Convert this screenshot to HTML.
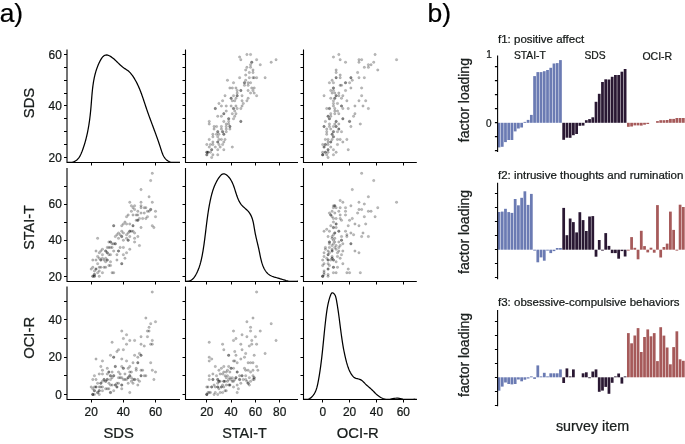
<!DOCTYPE html>
<html><head><meta charset="utf-8"><title>figure</title>
<style>html,body{margin:0;padding:0;background:#fff;width:685px;height:444px;overflow:hidden}
svg{display:block;font-family:"Liberation Sans", sans-serif;will-change:transform}
text{stroke:currentColor;stroke-width:0.22}</style></head>
<body><svg width="685" height="444" viewBox="0 0 685 444"><rect width="685" height="444" fill="#fff"/><text x="-0.3" y="22.4" font-size="26.3" fill="#000">a)</text><text x="427.5" y="22" font-size="26.5" fill="#000">b)</text><path d="M67.20,162.30 L68.46,162.40 L69.90,162.40 L71.23,162.40 L72.47,162.19 L73.61,161.85 L74.67,161.40 L75.64,160.84 L76.53,160.20 L77.35,159.46 L78.10,158.65 L78.80,157.77 L79.44,156.83 L80.03,155.83 L80.58,154.79 L81.09,153.72 L81.56,152.61 L82.02,151.49 L82.44,150.35 L82.86,149.20 L83.26,148.06 L83.65,146.91 L84.02,145.76 L84.38,144.61 L84.73,143.46 L85.07,142.31 L85.40,141.15 L85.71,139.99 L86.02,138.83 L86.31,137.67 L86.59,136.51 L86.86,135.35 L87.13,134.18 L87.38,133.01 L87.62,131.84 L87.85,130.67 L88.08,129.50 L88.29,128.33 L88.50,127.16 L88.70,125.98 L88.89,124.80 L89.07,123.62 L89.25,122.45 L89.42,121.26 L89.58,120.08 L89.74,118.90 L89.88,117.71 L90.03,116.53 L90.17,115.34 L90.30,114.15 L90.42,112.96 L90.55,111.77 L90.66,110.58 L90.78,109.39 L90.88,108.20 L90.99,107.00 L91.09,105.81 L91.19,104.61 L91.28,103.41 L91.38,102.22 L91.47,101.02 L91.56,99.82 L91.66,98.62 L91.75,97.42 L91.85,96.22 L91.95,95.03 L92.05,93.83 L92.16,92.63 L92.28,91.44 L92.40,90.24 L92.53,89.05 L92.66,87.86 L92.81,86.67 L92.96,85.48 L93.13,84.29 L93.31,83.11 L93.50,81.92 L93.70,80.75 L93.92,79.57 L94.15,78.39 L94.39,77.22 L94.65,76.06 L94.93,74.89 L95.23,73.73 L95.55,72.57 L95.88,71.42 L96.24,70.27 L96.62,69.13 L97.02,67.99 L97.44,66.85 L97.89,65.72 L98.36,64.59 L98.85,63.47 L99.37,62.35 L99.92,61.24 L100.50,60.15 L101.11,59.09 L101.76,58.10 L102.45,57.20 L103.18,56.41 L103.97,55.77 L104.80,55.30 L105.70,55.02 L106.65,54.97 L107.66,55.13 L108.71,55.48 L109.79,55.99 L110.88,56.64 L111.97,57.39 L113.03,58.21 L114.07,59.07 L115.05,59.95 L115.99,60.84 L116.88,61.71 L117.75,62.58 L118.60,63.43 L119.44,64.26 L120.28,65.07 L121.14,65.85 L122.02,66.60 L122.93,67.30 L123.88,67.97 L124.86,68.61 L125.85,69.24 L126.83,69.89 L127.78,70.57 L128.69,71.29 L129.55,72.09 L130.35,72.94 L131.11,73.83 L131.83,74.76 L132.52,75.72 L133.19,76.69 L133.83,77.68 L134.45,78.68 L135.06,79.70 L135.64,80.73 L136.21,81.77 L136.75,82.82 L137.29,83.88 L137.80,84.96 L138.30,86.04 L138.79,87.13 L139.26,88.23 L139.72,89.34 L140.17,90.45 L140.61,91.57 L141.04,92.70 L141.46,93.83 L141.87,94.97 L142.27,96.11 L142.67,97.25 L143.07,98.39 L143.45,99.54 L143.84,100.69 L144.22,101.84 L144.60,102.99 L144.98,104.14 L145.36,105.28 L145.74,106.43 L146.12,107.57 L146.51,108.71 L146.90,109.84 L147.29,110.98 L147.68,112.11 L148.08,113.23 L148.48,114.35 L148.88,115.47 L149.28,116.59 L149.69,117.71 L150.10,118.82 L150.51,119.93 L150.92,121.04 L151.33,122.15 L151.74,123.26 L152.16,124.37 L152.57,125.48 L152.99,126.59 L153.40,127.70 L153.81,128.81 L154.23,129.92 L154.64,131.04 L155.05,132.15 L155.46,133.27 L155.87,134.39 L156.28,135.51 L156.68,136.63 L157.09,137.76 L157.49,138.89 L157.89,140.02 L158.28,141.16 L158.68,142.30 L159.07,143.45 L159.45,144.60 L159.84,145.75 L160.21,146.91 L160.59,148.08 L160.96,149.25 L161.33,150.43 L161.71,151.59 L162.12,152.74 L162.55,153.87 L163.02,154.96 L163.53,156.01 L164.10,157.02 L164.74,157.97 L165.45,158.85 L166.24,159.66 L167.12,160.39 L168.10,161.03 L169.17,161.58 L170.32,162.03 L171.51,162.40 L172.75,162.40 L174.01,162.40 L175.27,162.40 L176.52,162.40 L177.74,162.40 L178.92,162.40 L180.00,162.38" fill="none" stroke="#000" stroke-width="1.25"/><path d="M67.00,49.40 V162.50 H180.00" fill="none" stroke="#000" stroke-width="1.1"/><path d="M64.00,157.50H67.00M64.00,144.50H67.00M64.00,131.50H67.00M64.00,118.50H67.00M64.00,105.50H67.00M64.00,93.50H67.00M64.00,80.50H67.00M64.00,67.50H67.00M64.00,54.50H67.00M91.50,162.50V165.50M123.50,162.50V165.50M155.50,162.50V165.50" stroke="#000" stroke-width="1"/><g fill="rgba(0,0,0,0.27)" stroke="rgba(0,0,0,0.2)" stroke-width="0.5"><circle cx="246.90" cy="54.50" r="1.25"/><circle cx="250.54" cy="54.50" r="1.25"/><circle cx="239.61" cy="57.07" r="1.25"/><circle cx="240.82" cy="59.65" r="1.25"/><circle cx="256.62" cy="59.65" r="1.25"/><circle cx="276.06" cy="59.65" r="1.25"/><circle cx="251.76" cy="62.22" r="1.25"/><circle cx="251.76" cy="62.22" r="1.25"/><circle cx="271.20" cy="62.22" r="1.25"/><circle cx="250.54" cy="64.79" r="1.25"/><circle cx="260.26" cy="64.79" r="1.25"/><circle cx="246.90" cy="67.36" r="1.25"/><circle cx="250.54" cy="67.36" r="1.25"/><circle cx="245.68" cy="69.94" r="1.25"/><circle cx="252.97" cy="69.94" r="1.25"/><circle cx="249.33" cy="72.51" r="1.25"/><circle cx="252.97" cy="72.51" r="1.25"/><circle cx="245.68" cy="75.08" r="1.25"/><circle cx="239.61" cy="77.65" r="1.25"/><circle cx="249.33" cy="77.65" r="1.25"/><circle cx="252.97" cy="77.65" r="1.25"/><circle cx="254.19" cy="77.65" r="1.25"/><circle cx="256.62" cy="77.65" r="1.25"/><circle cx="265.12" cy="77.65" r="1.25"/><circle cx="227.46" cy="80.23" r="1.25"/><circle cx="245.68" cy="80.23" r="1.25"/><circle cx="233.53" cy="82.80" r="1.25"/><circle cx="244.47" cy="82.80" r="1.25"/><circle cx="244.47" cy="82.80" r="1.25"/><circle cx="248.11" cy="82.80" r="1.25"/><circle cx="250.54" cy="82.80" r="1.25"/><circle cx="244.47" cy="85.37" r="1.25"/><circle cx="248.11" cy="85.37" r="1.25"/><circle cx="229.89" cy="87.94" r="1.25"/><circle cx="232.31" cy="87.94" r="1.25"/><circle cx="235.96" cy="87.94" r="1.25"/><circle cx="251.76" cy="87.94" r="1.25"/><circle cx="254.19" cy="87.94" r="1.25"/><circle cx="237.18" cy="90.52" r="1.25"/><circle cx="240.82" cy="90.52" r="1.25"/><circle cx="240.82" cy="90.52" r="1.25"/><circle cx="248.11" cy="90.52" r="1.25"/><circle cx="252.97" cy="90.52" r="1.25"/><circle cx="237.18" cy="93.09" r="1.25"/><circle cx="250.54" cy="93.09" r="1.25"/><circle cx="254.19" cy="93.09" r="1.25"/><circle cx="225.03" cy="95.66" r="1.25"/><circle cx="233.53" cy="95.66" r="1.25"/><circle cx="237.18" cy="95.66" r="1.25"/><circle cx="237.18" cy="95.66" r="1.25"/><circle cx="242.04" cy="95.66" r="1.25"/><circle cx="256.62" cy="95.66" r="1.25"/><circle cx="231.10" cy="98.23" r="1.25"/><circle cx="231.10" cy="98.23" r="1.25"/><circle cx="235.96" cy="98.23" r="1.25"/><circle cx="248.11" cy="98.23" r="1.25"/><circle cx="222.60" cy="100.81" r="1.25"/><circle cx="232.31" cy="100.81" r="1.25"/><circle cx="234.75" cy="100.81" r="1.25"/><circle cx="242.04" cy="100.81" r="1.25"/><circle cx="246.90" cy="100.81" r="1.25"/><circle cx="218.95" cy="103.38" r="1.25"/><circle cx="243.25" cy="103.38" r="1.25"/><circle cx="221.38" cy="105.95" r="1.25"/><circle cx="226.24" cy="105.95" r="1.25"/><circle cx="231.10" cy="105.95" r="1.25"/><circle cx="235.96" cy="105.95" r="1.25"/><circle cx="242.04" cy="105.95" r="1.25"/><circle cx="215.31" cy="108.52" r="1.25"/><circle cx="215.31" cy="108.52" r="1.25"/><circle cx="233.53" cy="108.52" r="1.25"/><circle cx="233.53" cy="108.52" r="1.25"/><circle cx="237.18" cy="108.52" r="1.25"/><circle cx="240.82" cy="108.52" r="1.25"/><circle cx="226.24" cy="111.10" r="1.25"/><circle cx="234.75" cy="111.10" r="1.25"/><circle cx="223.81" cy="113.67" r="1.25"/><circle cx="223.81" cy="113.67" r="1.25"/><circle cx="232.31" cy="113.67" r="1.25"/><circle cx="235.96" cy="113.67" r="1.25"/><circle cx="217.74" cy="116.24" r="1.25"/><circle cx="221.38" cy="116.24" r="1.25"/><circle cx="234.75" cy="116.24" r="1.25"/><circle cx="228.67" cy="118.81" r="1.25"/><circle cx="228.67" cy="118.81" r="1.25"/><circle cx="233.53" cy="118.81" r="1.25"/><circle cx="209.23" cy="121.39" r="1.25"/><circle cx="223.81" cy="121.39" r="1.25"/><circle cx="228.67" cy="121.39" r="1.25"/><circle cx="240.82" cy="121.39" r="1.25"/><circle cx="240.82" cy="121.39" r="1.25"/><circle cx="209.23" cy="123.96" r="1.25"/><circle cx="226.24" cy="123.96" r="1.25"/><circle cx="228.67" cy="123.96" r="1.25"/><circle cx="214.09" cy="126.53" r="1.25"/><circle cx="216.52" cy="126.53" r="1.25"/><circle cx="221.38" cy="126.53" r="1.25"/><circle cx="226.24" cy="126.53" r="1.25"/><circle cx="229.89" cy="126.53" r="1.25"/><circle cx="229.89" cy="126.53" r="1.25"/><circle cx="214.09" cy="129.10" r="1.25"/><circle cx="221.38" cy="129.10" r="1.25"/><circle cx="226.24" cy="129.10" r="1.25"/><circle cx="229.89" cy="129.10" r="1.25"/><circle cx="217.74" cy="131.68" r="1.25"/><circle cx="217.74" cy="131.68" r="1.25"/><circle cx="222.60" cy="131.68" r="1.25"/><circle cx="222.60" cy="131.68" r="1.25"/><circle cx="226.24" cy="131.68" r="1.25"/><circle cx="212.88" cy="134.25" r="1.25"/><circle cx="216.52" cy="134.25" r="1.25"/><circle cx="218.95" cy="134.25" r="1.25"/><circle cx="223.81" cy="134.25" r="1.25"/><circle cx="223.81" cy="134.25" r="1.25"/><circle cx="212.88" cy="136.82" r="1.25"/><circle cx="217.74" cy="136.82" r="1.25"/><circle cx="209.23" cy="139.39" r="1.25"/><circle cx="218.95" cy="139.39" r="1.25"/><circle cx="221.38" cy="139.39" r="1.25"/><circle cx="225.03" cy="139.39" r="1.25"/><circle cx="212.88" cy="141.97" r="1.25"/><circle cx="217.74" cy="141.97" r="1.25"/><circle cx="217.74" cy="141.97" r="1.25"/><circle cx="223.81" cy="141.97" r="1.25"/><circle cx="206.80" cy="144.54" r="1.25"/><circle cx="210.45" cy="144.54" r="1.25"/><circle cx="212.88" cy="144.54" r="1.25"/><circle cx="218.95" cy="144.54" r="1.25"/><circle cx="222.60" cy="144.54" r="1.25"/><circle cx="209.23" cy="147.11" r="1.25"/><circle cx="215.31" cy="147.11" r="1.25"/><circle cx="220.17" cy="147.11" r="1.25"/><circle cx="232.31" cy="147.11" r="1.25"/><circle cx="211.66" cy="149.68" r="1.25"/><circle cx="211.66" cy="149.68" r="1.25"/><circle cx="217.74" cy="149.68" r="1.25"/><circle cx="223.81" cy="149.68" r="1.25"/><circle cx="206.80" cy="152.25" r="1.25"/><circle cx="206.80" cy="152.25" r="1.25"/><circle cx="208.02" cy="152.25" r="1.25"/><circle cx="208.02" cy="152.25" r="1.25"/><circle cx="210.45" cy="152.25" r="1.25"/><circle cx="206.80" cy="154.83" r="1.25"/><circle cx="206.80" cy="154.83" r="1.25"/><circle cx="212.88" cy="154.83" r="1.25"/><circle cx="217.74" cy="154.83" r="1.25"/><circle cx="211.66" cy="157.40" r="1.25"/></g><path d="M185.50,49.40 V162.50 H298.00" fill="none" stroke="#000" stroke-width="1.1"/><path d="M182.50,157.50H185.50M182.50,144.50H185.50M182.50,131.50H185.50M182.50,118.50H185.50M182.50,105.50H185.50M182.50,93.50H185.50M182.50,80.50H185.50M182.50,67.50H185.50M182.50,54.50H185.50M206.50,162.50V165.50M231.50,162.50V165.50M255.50,162.50V165.50M279.50,162.50V165.50" stroke="#000" stroke-width="1"/><g fill="rgba(0,0,0,0.27)" stroke="rgba(0,0,0,0.2)" stroke-width="0.5"><circle cx="338.82" cy="54.50" r="1.25"/><circle cx="375.08" cy="54.50" r="1.25"/><circle cx="333.44" cy="57.07" r="1.25"/><circle cx="340.16" cy="59.65" r="1.25"/><circle cx="358.96" cy="59.65" r="1.25"/><circle cx="361.65" cy="59.65" r="1.25"/><circle cx="396.56" cy="59.65" r="1.25"/><circle cx="345.53" cy="62.22" r="1.25"/><circle cx="358.96" cy="62.22" r="1.25"/><circle cx="373.73" cy="62.22" r="1.25"/><circle cx="368.36" cy="64.79" r="1.25"/><circle cx="371.05" cy="64.79" r="1.25"/><circle cx="364.33" cy="67.36" r="1.25"/><circle cx="368.36" cy="67.36" r="1.25"/><circle cx="336.13" cy="69.94" r="1.25"/><circle cx="377.76" cy="69.94" r="1.25"/><circle cx="336.13" cy="72.51" r="1.25"/><circle cx="357.62" cy="72.51" r="1.25"/><circle cx="340.16" cy="75.08" r="1.25"/><circle cx="336.13" cy="77.65" r="1.25"/><circle cx="336.13" cy="77.65" r="1.25"/><circle cx="340.16" cy="77.65" r="1.25"/><circle cx="350.90" cy="77.65" r="1.25"/><circle cx="350.90" cy="77.65" r="1.25"/><circle cx="358.96" cy="77.65" r="1.25"/><circle cx="364.33" cy="77.65" r="1.25"/><circle cx="332.10" cy="80.23" r="1.25"/><circle cx="352.25" cy="80.23" r="1.25"/><circle cx="329.41" cy="82.80" r="1.25"/><circle cx="333.44" cy="82.80" r="1.25"/><circle cx="345.53" cy="82.80" r="1.25"/><circle cx="345.53" cy="82.80" r="1.25"/><circle cx="349.56" cy="82.80" r="1.25"/><circle cx="340.16" cy="85.37" r="1.25"/><circle cx="341.50" cy="85.37" r="1.25"/><circle cx="333.44" cy="87.94" r="1.25"/><circle cx="333.44" cy="87.94" r="1.25"/><circle cx="350.90" cy="87.94" r="1.25"/><circle cx="361.65" cy="87.94" r="1.25"/><circle cx="330.76" cy="90.52" r="1.25"/><circle cx="333.44" cy="90.52" r="1.25"/><circle cx="345.53" cy="90.52" r="1.25"/><circle cx="332.10" cy="93.09" r="1.25"/><circle cx="334.79" cy="93.09" r="1.25"/><circle cx="338.82" cy="93.09" r="1.25"/><circle cx="324.04" cy="95.66" r="1.25"/><circle cx="336.13" cy="95.66" r="1.25"/><circle cx="336.13" cy="95.66" r="1.25"/><circle cx="338.82" cy="95.66" r="1.25"/><circle cx="342.84" cy="95.66" r="1.25"/><circle cx="361.65" cy="95.66" r="1.25"/><circle cx="330.76" cy="98.23" r="1.25"/><circle cx="334.79" cy="98.23" r="1.25"/><circle cx="334.79" cy="98.23" r="1.25"/><circle cx="341.50" cy="98.23" r="1.25"/><circle cx="333.44" cy="100.81" r="1.25"/><circle cx="346.87" cy="100.81" r="1.25"/><circle cx="358.96" cy="100.81" r="1.25"/><circle cx="365.68" cy="100.81" r="1.25"/><circle cx="333.44" cy="103.38" r="1.25"/><circle cx="337.47" cy="103.38" r="1.25"/><circle cx="333.44" cy="105.95" r="1.25"/><circle cx="341.50" cy="105.95" r="1.25"/><circle cx="341.50" cy="105.95" r="1.25"/><circle cx="354.93" cy="105.95" r="1.25"/><circle cx="362.99" cy="105.95" r="1.25"/><circle cx="326.73" cy="108.52" r="1.25"/><circle cx="329.41" cy="108.52" r="1.25"/><circle cx="329.41" cy="108.52" r="1.25"/><circle cx="334.79" cy="108.52" r="1.25"/><circle cx="342.84" cy="108.52" r="1.25"/><circle cx="348.22" cy="108.52" r="1.25"/><circle cx="368.36" cy="108.52" r="1.25"/><circle cx="334.79" cy="111.10" r="1.25"/><circle cx="337.47" cy="111.10" r="1.25"/><circle cx="330.76" cy="113.67" r="1.25"/><circle cx="334.79" cy="113.67" r="1.25"/><circle cx="338.82" cy="113.67" r="1.25"/><circle cx="354.93" cy="113.67" r="1.25"/><circle cx="328.07" cy="116.24" r="1.25"/><circle cx="328.07" cy="116.24" r="1.25"/><circle cx="330.76" cy="116.24" r="1.25"/><circle cx="353.59" cy="116.24" r="1.25"/><circle cx="329.41" cy="118.81" r="1.25"/><circle cx="329.41" cy="118.81" r="1.25"/><circle cx="342.84" cy="118.81" r="1.25"/><circle cx="342.84" cy="118.81" r="1.25"/><circle cx="325.39" cy="121.39" r="1.25"/><circle cx="336.13" cy="121.39" r="1.25"/><circle cx="336.13" cy="121.39" r="1.25"/><circle cx="349.56" cy="121.39" r="1.25"/><circle cx="349.56" cy="121.39" r="1.25"/><circle cx="329.41" cy="123.96" r="1.25"/><circle cx="334.79" cy="123.96" r="1.25"/><circle cx="338.82" cy="123.96" r="1.25"/><circle cx="360.30" cy="123.96" r="1.25"/><circle cx="324.04" cy="126.53" r="1.25"/><circle cx="324.04" cy="126.53" r="1.25"/><circle cx="329.41" cy="126.53" r="1.25"/><circle cx="333.44" cy="126.53" r="1.25"/><circle cx="336.13" cy="126.53" r="1.25"/><circle cx="336.13" cy="126.53" r="1.25"/><circle cx="350.90" cy="126.53" r="1.25"/><circle cx="326.73" cy="129.10" r="1.25"/><circle cx="330.76" cy="129.10" r="1.25"/><circle cx="338.82" cy="129.10" r="1.25"/><circle cx="338.82" cy="129.10" r="1.25"/><circle cx="326.73" cy="131.68" r="1.25"/><circle cx="333.44" cy="131.68" r="1.25"/><circle cx="333.44" cy="131.68" r="1.25"/><circle cx="337.47" cy="131.68" r="1.25"/><circle cx="341.50" cy="131.68" r="1.25"/><circle cx="326.73" cy="134.25" r="1.25"/><circle cx="332.10" cy="134.25" r="1.25"/><circle cx="332.10" cy="134.25" r="1.25"/><circle cx="333.44" cy="136.82" r="1.25"/><circle cx="333.44" cy="136.82" r="1.25"/><circle cx="325.39" cy="139.39" r="1.25"/><circle cx="328.07" cy="139.39" r="1.25"/><circle cx="332.10" cy="139.39" r="1.25"/><circle cx="337.47" cy="139.39" r="1.25"/><circle cx="340.16" cy="139.39" r="1.25"/><circle cx="346.87" cy="139.39" r="1.25"/><circle cx="328.07" cy="141.97" r="1.25"/><circle cx="330.76" cy="141.97" r="1.25"/><circle cx="330.76" cy="141.97" r="1.25"/><circle cx="342.84" cy="141.97" r="1.25"/><circle cx="322.70" cy="144.54" r="1.25"/><circle cx="325.39" cy="144.54" r="1.25"/><circle cx="325.39" cy="144.54" r="1.25"/><circle cx="328.07" cy="144.54" r="1.25"/><circle cx="337.47" cy="144.54" r="1.25"/><circle cx="324.04" cy="147.11" r="1.25"/><circle cx="324.04" cy="147.11" r="1.25"/><circle cx="330.76" cy="147.11" r="1.25"/><circle cx="328.07" cy="149.68" r="1.25"/><circle cx="328.07" cy="149.68" r="1.25"/><circle cx="333.44" cy="149.68" r="1.25"/><circle cx="348.22" cy="149.68" r="1.25"/><circle cx="322.70" cy="152.25" r="1.25"/><circle cx="325.39" cy="152.25" r="1.25"/><circle cx="325.39" cy="152.25" r="1.25"/><circle cx="328.07" cy="152.25" r="1.25"/><circle cx="336.13" cy="152.25" r="1.25"/><circle cx="322.70" cy="154.83" r="1.25"/><circle cx="322.70" cy="154.83" r="1.25"/><circle cx="322.70" cy="154.83" r="1.25"/><circle cx="326.73" cy="154.83" r="1.25"/><circle cx="333.44" cy="154.83" r="1.25"/><circle cx="328.07" cy="157.40" r="1.25"/></g><path d="M303.50,49.40 V162.50 H416.80" fill="none" stroke="#000" stroke-width="1.1"/><path d="M300.50,157.50H303.50M300.50,144.50H303.50M300.50,131.50H303.50M300.50,118.50H303.50M300.50,105.50H303.50M300.50,93.50H303.50M300.50,80.50H303.50M300.50,67.50H303.50M300.50,54.50H303.50M322.50,162.50V165.50M349.50,162.50V165.50M376.50,162.50V165.50M403.50,162.50V165.50" stroke="#000" stroke-width="1"/><g fill="rgba(0,0,0,0.27)" stroke="rgba(0,0,0,0.2)" stroke-width="0.5"><circle cx="155.50" cy="216.70" r="1.25"/><circle cx="155.50" cy="211.28" r="1.25"/><circle cx="153.89" cy="227.54" r="1.25"/><circle cx="152.28" cy="225.73" r="1.25"/><circle cx="152.28" cy="202.25" r="1.25"/><circle cx="152.28" cy="173.36" r="1.25"/><circle cx="150.68" cy="209.48" r="1.25"/><circle cx="150.68" cy="209.48" r="1.25"/><circle cx="150.68" cy="180.58" r="1.25"/><circle cx="149.07" cy="211.28" r="1.25"/><circle cx="149.07" cy="196.84" r="1.25"/><circle cx="147.46" cy="216.70" r="1.25"/><circle cx="147.46" cy="211.28" r="1.25"/><circle cx="145.86" cy="218.51" r="1.25"/><circle cx="145.86" cy="207.67" r="1.25"/><circle cx="144.25" cy="213.09" r="1.25"/><circle cx="144.25" cy="207.67" r="1.25"/><circle cx="142.64" cy="218.51" r="1.25"/><circle cx="141.03" cy="227.54" r="1.25"/><circle cx="141.03" cy="213.09" r="1.25"/><circle cx="141.03" cy="207.67" r="1.25"/><circle cx="141.03" cy="205.87" r="1.25"/><circle cx="141.03" cy="202.25" r="1.25"/><circle cx="141.03" cy="189.61" r="1.25"/><circle cx="139.43" cy="245.60" r="1.25"/><circle cx="139.43" cy="218.51" r="1.25"/><circle cx="137.82" cy="236.57" r="1.25"/><circle cx="137.82" cy="220.31" r="1.25"/><circle cx="137.82" cy="220.31" r="1.25"/><circle cx="137.82" cy="214.90" r="1.25"/><circle cx="137.82" cy="211.28" r="1.25"/><circle cx="136.21" cy="220.31" r="1.25"/><circle cx="136.21" cy="214.90" r="1.25"/><circle cx="134.60" cy="241.99" r="1.25"/><circle cx="134.60" cy="238.37" r="1.25"/><circle cx="134.60" cy="232.96" r="1.25"/><circle cx="134.60" cy="209.48" r="1.25"/><circle cx="134.60" cy="205.87" r="1.25"/><circle cx="133.00" cy="231.15" r="1.25"/><circle cx="133.00" cy="225.73" r="1.25"/><circle cx="133.00" cy="225.73" r="1.25"/><circle cx="133.00" cy="214.90" r="1.25"/><circle cx="133.00" cy="207.67" r="1.25"/><circle cx="131.39" cy="231.15" r="1.25"/><circle cx="131.39" cy="211.28" r="1.25"/><circle cx="131.39" cy="205.87" r="1.25"/><circle cx="129.78" cy="249.21" r="1.25"/><circle cx="129.78" cy="236.57" r="1.25"/><circle cx="129.78" cy="231.15" r="1.25"/><circle cx="129.78" cy="231.15" r="1.25"/><circle cx="129.78" cy="223.93" r="1.25"/><circle cx="129.78" cy="202.25" r="1.25"/><circle cx="128.17" cy="240.18" r="1.25"/><circle cx="128.17" cy="240.18" r="1.25"/><circle cx="128.17" cy="232.96" r="1.25"/><circle cx="128.17" cy="214.90" r="1.25"/><circle cx="126.56" cy="252.82" r="1.25"/><circle cx="126.56" cy="238.37" r="1.25"/><circle cx="126.56" cy="234.76" r="1.25"/><circle cx="126.56" cy="223.93" r="1.25"/><circle cx="126.56" cy="216.70" r="1.25"/><circle cx="124.96" cy="258.24" r="1.25"/><circle cx="124.96" cy="222.12" r="1.25"/><circle cx="123.35" cy="254.63" r="1.25"/><circle cx="123.35" cy="247.40" r="1.25"/><circle cx="123.35" cy="240.18" r="1.25"/><circle cx="123.35" cy="232.96" r="1.25"/><circle cx="123.35" cy="223.93" r="1.25"/><circle cx="121.74" cy="263.66" r="1.25"/><circle cx="121.74" cy="263.66" r="1.25"/><circle cx="121.74" cy="236.57" r="1.25"/><circle cx="121.74" cy="236.57" r="1.25"/><circle cx="121.74" cy="231.15" r="1.25"/><circle cx="121.74" cy="225.73" r="1.25"/><circle cx="120.14" cy="247.40" r="1.25"/><circle cx="120.14" cy="234.76" r="1.25"/><circle cx="118.53" cy="251.02" r="1.25"/><circle cx="118.53" cy="251.02" r="1.25"/><circle cx="118.53" cy="238.37" r="1.25"/><circle cx="118.53" cy="232.96" r="1.25"/><circle cx="116.92" cy="260.05" r="1.25"/><circle cx="116.92" cy="254.63" r="1.25"/><circle cx="116.92" cy="234.76" r="1.25"/><circle cx="115.31" cy="243.79" r="1.25"/><circle cx="115.31" cy="243.79" r="1.25"/><circle cx="115.31" cy="236.57" r="1.25"/><circle cx="113.70" cy="272.69" r="1.25"/><circle cx="113.70" cy="251.02" r="1.25"/><circle cx="113.70" cy="243.79" r="1.25"/><circle cx="113.70" cy="225.73" r="1.25"/><circle cx="113.70" cy="225.73" r="1.25"/><circle cx="112.10" cy="272.69" r="1.25"/><circle cx="112.10" cy="247.40" r="1.25"/><circle cx="112.10" cy="243.79" r="1.25"/><circle cx="110.49" cy="265.46" r="1.25"/><circle cx="110.49" cy="261.85" r="1.25"/><circle cx="110.49" cy="254.63" r="1.25"/><circle cx="110.49" cy="247.40" r="1.25"/><circle cx="110.49" cy="241.99" r="1.25"/><circle cx="110.49" cy="241.99" r="1.25"/><circle cx="108.88" cy="265.46" r="1.25"/><circle cx="108.88" cy="254.63" r="1.25"/><circle cx="108.88" cy="247.40" r="1.25"/><circle cx="108.88" cy="241.99" r="1.25"/><circle cx="107.28" cy="260.05" r="1.25"/><circle cx="107.28" cy="260.05" r="1.25"/><circle cx="107.28" cy="252.82" r="1.25"/><circle cx="107.28" cy="252.82" r="1.25"/><circle cx="107.28" cy="247.40" r="1.25"/><circle cx="105.67" cy="267.27" r="1.25"/><circle cx="105.67" cy="261.85" r="1.25"/><circle cx="105.67" cy="258.24" r="1.25"/><circle cx="105.67" cy="251.02" r="1.25"/><circle cx="105.67" cy="251.02" r="1.25"/><circle cx="104.06" cy="267.27" r="1.25"/><circle cx="104.06" cy="260.05" r="1.25"/><circle cx="102.45" cy="272.69" r="1.25"/><circle cx="102.45" cy="258.24" r="1.25"/><circle cx="102.45" cy="254.63" r="1.25"/><circle cx="102.45" cy="249.21" r="1.25"/><circle cx="100.84" cy="267.27" r="1.25"/><circle cx="100.84" cy="260.05" r="1.25"/><circle cx="100.84" cy="260.05" r="1.25"/><circle cx="100.84" cy="251.02" r="1.25"/><circle cx="99.24" cy="276.30" r="1.25"/><circle cx="99.24" cy="270.88" r="1.25"/><circle cx="99.24" cy="267.27" r="1.25"/><circle cx="99.24" cy="258.24" r="1.25"/><circle cx="99.24" cy="252.82" r="1.25"/><circle cx="97.63" cy="272.69" r="1.25"/><circle cx="97.63" cy="263.66" r="1.25"/><circle cx="97.63" cy="256.43" r="1.25"/><circle cx="97.63" cy="238.37" r="1.25"/><circle cx="96.02" cy="269.08" r="1.25"/><circle cx="96.02" cy="269.08" r="1.25"/><circle cx="96.02" cy="260.05" r="1.25"/><circle cx="96.02" cy="251.02" r="1.25"/><circle cx="94.42" cy="276.30" r="1.25"/><circle cx="94.42" cy="276.30" r="1.25"/><circle cx="94.42" cy="274.49" r="1.25"/><circle cx="94.42" cy="274.49" r="1.25"/><circle cx="94.42" cy="270.88" r="1.25"/><circle cx="92.81" cy="276.30" r="1.25"/><circle cx="92.81" cy="276.30" r="1.25"/><circle cx="92.81" cy="267.27" r="1.25"/><circle cx="92.81" cy="260.05" r="1.25"/><circle cx="91.20" cy="269.08" r="1.25"/></g><path d="M67.00,168.00 V281.50 H180.00" fill="none" stroke="#000" stroke-width="1.1"/><path d="M64.00,276.50H67.00M64.00,258.50H67.00M64.00,240.50H67.00M64.00,222.50H67.00M64.00,204.50H67.00M64.00,186.50H67.00M91.50,281.50V284.50M123.50,281.50V284.50M155.50,281.50V284.50" stroke="#000" stroke-width="1"/><path d="M185.50,281.21 L186.82,281.30 L188.15,281.24 L189.36,280.98 L190.47,280.56 L191.47,280.00 L192.39,279.31 L193.23,278.51 L194.00,277.62 L194.70,276.65 L195.35,275.63 L195.96,274.57 L196.53,273.49 L197.06,272.40 L197.57,271.30 L198.04,270.18 L198.49,269.06 L198.92,267.93 L199.32,266.80 L199.69,265.65 L200.05,264.50 L200.38,263.34 L200.70,262.18 L200.99,261.01 L201.27,259.83 L201.54,258.65 L201.79,257.47 L202.03,256.29 L202.26,255.10 L202.48,253.91 L202.69,252.72 L202.90,251.52 L203.10,250.33 L203.29,249.13 L203.48,247.94 L203.66,246.74 L203.83,245.54 L204.01,244.35 L204.18,243.15 L204.34,241.95 L204.50,240.75 L204.66,239.55 L204.81,238.35 L204.96,237.15 L205.11,235.95 L205.26,234.75 L205.41,233.55 L205.56,232.35 L205.70,231.15 L205.85,229.95 L205.99,228.75 L206.13,227.55 L206.28,226.36 L206.43,225.16 L206.57,223.96 L206.72,222.76 L206.88,221.57 L207.03,220.37 L207.19,219.18 L207.34,217.98 L207.51,216.79 L207.67,215.60 L207.84,214.41 L208.02,213.22 L208.20,212.03 L208.38,210.84 L208.57,209.65 L208.77,208.47 L208.97,207.29 L209.18,206.10 L209.39,204.92 L209.62,203.75 L209.85,202.57 L210.08,201.39 L210.33,200.22 L210.58,199.05 L210.85,197.88 L211.12,196.71 L211.41,195.55 L211.70,194.38 L212.02,193.22 L212.35,192.06 L212.70,190.91 L213.08,189.76 L213.47,188.61 L213.90,187.46 L214.34,186.32 L214.82,185.18 L215.33,184.04 L215.87,182.91 L216.45,181.78 L217.07,180.65 L217.72,179.53 L218.41,178.41 L219.15,177.31 L219.92,176.27 L220.74,175.35 L221.59,174.60 L222.48,174.06 L223.40,173.81 L224.36,173.86 L225.33,174.21 L226.29,174.78 L227.23,175.52 L228.11,176.35 L228.92,177.25 L229.68,178.19 L230.37,179.17 L231.01,180.20 L231.61,181.26 L232.16,182.36 L232.67,183.48 L233.15,184.63 L233.60,185.80 L234.02,186.98 L234.43,188.17 L234.82,189.37 L235.20,190.58 L235.57,191.78 L235.95,192.97 L236.33,194.15 L236.71,195.32 L237.12,196.48 L237.54,197.61 L237.99,198.72 L238.46,199.81 L238.97,200.87 L239.52,201.90 L240.11,202.90 L240.76,203.87 L241.45,204.80 L242.21,205.69 L243.03,206.53 L243.92,207.34 L244.84,208.13 L245.76,208.91 L246.67,209.72 L247.53,210.57 L248.33,211.45 L249.08,212.37 L249.76,213.34 L250.38,214.34 L250.94,215.38 L251.43,216.45 L251.87,217.55 L252.27,218.67 L252.62,219.82 L252.93,220.99 L253.21,222.18 L253.47,223.38 L253.70,224.59 L253.92,225.81 L254.12,227.03 L254.32,228.25 L254.52,229.47 L254.73,230.68 L254.95,231.89 L255.17,233.08 L255.41,234.27 L255.66,235.45 L255.91,236.62 L256.18,237.79 L256.44,238.95 L256.72,240.11 L256.99,241.27 L257.27,242.43 L257.54,243.59 L257.82,244.74 L258.09,245.91 L258.36,247.07 L258.63,248.24 L258.88,249.41 L259.13,250.60 L259.38,251.79 L259.62,252.98 L259.85,254.18 L260.09,255.38 L260.34,256.58 L260.60,257.77 L260.87,258.97 L261.16,260.15 L261.47,261.34 L261.80,262.51 L262.16,263.67 L262.55,264.82 L262.97,265.95 L263.43,267.07 L263.94,268.17 L264.49,269.24 L265.09,270.27 L265.74,271.26 L266.44,272.20 L267.21,273.07 L268.04,273.87 L268.95,274.60 L269.92,275.24 L270.96,275.79 L272.06,276.27 L273.20,276.70 L274.37,277.08 L275.57,277.43 L276.77,277.77 L277.97,278.10 L279.15,278.45 L280.32,278.81 L281.47,279.16 L282.62,279.52 L283.76,279.87 L284.90,280.20 L286.03,280.51 L287.18,280.79 L288.32,281.05 L289.48,281.26 L290.64,281.30 L291.82,281.30 L293.02,281.30 L294.23,281.30 L295.47,281.30 L296.74,281.30 L298.00,281.24" fill="none" stroke="#000" stroke-width="1.25"/><path d="M185.50,168.00 V281.50 H298.00" fill="none" stroke="#000" stroke-width="1.1"/><path d="M182.50,276.50H185.50M182.50,258.50H185.50M182.50,240.50H185.50M182.50,222.50H185.50M182.50,204.50H185.50M182.50,186.50H185.50M206.50,281.50V284.50M231.50,281.50V284.50M255.50,281.50V284.50M279.50,281.50V284.50" stroke="#000" stroke-width="1"/><g fill="rgba(0,0,0,0.27)" stroke="rgba(0,0,0,0.2)" stroke-width="0.5"><circle cx="361.65" cy="173.36" r="1.25"/><circle cx="373.73" cy="180.58" r="1.25"/><circle cx="352.25" cy="189.61" r="1.25"/><circle cx="368.36" cy="196.84" r="1.25"/><circle cx="340.16" cy="200.45" r="1.25"/><circle cx="342.84" cy="202.25" r="1.25"/><circle cx="358.96" cy="202.25" r="1.25"/><circle cx="396.56" cy="202.25" r="1.25"/><circle cx="364.33" cy="204.06" r="1.25"/><circle cx="333.44" cy="205.87" r="1.25"/><circle cx="334.79" cy="205.87" r="1.25"/><circle cx="334.79" cy="205.87" r="1.25"/><circle cx="350.90" cy="205.87" r="1.25"/><circle cx="333.44" cy="207.67" r="1.25"/><circle cx="336.13" cy="207.67" r="1.25"/><circle cx="340.16" cy="207.67" r="1.25"/><circle cx="345.53" cy="207.67" r="1.25"/><circle cx="377.76" cy="207.67" r="1.25"/><circle cx="358.96" cy="209.48" r="1.25"/><circle cx="361.65" cy="209.48" r="1.25"/><circle cx="332.10" cy="211.28" r="1.25"/><circle cx="338.82" cy="211.28" r="1.25"/><circle cx="345.53" cy="211.28" r="1.25"/><circle cx="368.36" cy="211.28" r="1.25"/><circle cx="371.05" cy="211.28" r="1.25"/><circle cx="329.41" cy="213.09" r="1.25"/><circle cx="334.79" cy="213.09" r="1.25"/><circle cx="357.62" cy="213.09" r="1.25"/><circle cx="330.76" cy="214.90" r="1.25"/><circle cx="330.76" cy="214.90" r="1.25"/><circle cx="340.16" cy="214.90" r="1.25"/><circle cx="345.53" cy="214.90" r="1.25"/><circle cx="332.10" cy="216.70" r="1.25"/><circle cx="364.33" cy="216.70" r="1.25"/><circle cx="375.08" cy="216.70" r="1.25"/><circle cx="333.44" cy="218.51" r="1.25"/><circle cx="336.13" cy="218.51" r="1.25"/><circle cx="340.16" cy="218.51" r="1.25"/><circle cx="352.25" cy="218.51" r="1.25"/><circle cx="341.50" cy="220.31" r="1.25"/><circle cx="349.56" cy="220.31" r="1.25"/><circle cx="333.44" cy="222.12" r="1.25"/><circle cx="336.13" cy="223.93" r="1.25"/><circle cx="336.13" cy="223.93" r="1.25"/><circle cx="354.93" cy="223.93" r="1.25"/><circle cx="365.68" cy="223.93" r="1.25"/><circle cx="330.76" cy="225.73" r="1.25"/><circle cx="348.22" cy="225.73" r="1.25"/><circle cx="358.96" cy="225.73" r="1.25"/><circle cx="333.44" cy="227.54" r="1.25"/><circle cx="333.44" cy="227.54" r="1.25"/><circle cx="336.13" cy="227.54" r="1.25"/><circle cx="326.73" cy="229.34" r="1.25"/><circle cx="324.04" cy="231.15" r="1.25"/><circle cx="329.41" cy="231.15" r="1.25"/><circle cx="338.82" cy="231.15" r="1.25"/><circle cx="338.82" cy="231.15" r="1.25"/><circle cx="345.53" cy="231.15" r="1.25"/><circle cx="334.79" cy="232.96" r="1.25"/><circle cx="334.79" cy="232.96" r="1.25"/><circle cx="350.90" cy="232.96" r="1.25"/><circle cx="362.99" cy="232.96" r="1.25"/><circle cx="333.44" cy="234.76" r="1.25"/><circle cx="346.87" cy="234.76" r="1.25"/><circle cx="353.59" cy="234.76" r="1.25"/><circle cx="328.07" cy="236.57" r="1.25"/><circle cx="332.10" cy="236.57" r="1.25"/><circle cx="341.50" cy="236.57" r="1.25"/><circle cx="346.87" cy="236.57" r="1.25"/><circle cx="361.65" cy="236.57" r="1.25"/><circle cx="368.36" cy="236.57" r="1.25"/><circle cx="332.10" cy="238.37" r="1.25"/><circle cx="334.79" cy="238.37" r="1.25"/><circle cx="333.44" cy="240.18" r="1.25"/><circle cx="341.50" cy="240.18" r="1.25"/><circle cx="341.50" cy="240.18" r="1.25"/><circle cx="329.41" cy="241.99" r="1.25"/><circle cx="329.41" cy="241.99" r="1.25"/><circle cx="334.79" cy="241.99" r="1.25"/><circle cx="338.82" cy="241.99" r="1.25"/><circle cx="329.41" cy="243.79" r="1.25"/><circle cx="333.44" cy="243.79" r="1.25"/><circle cx="342.84" cy="243.79" r="1.25"/><circle cx="350.90" cy="243.79" r="1.25"/><circle cx="350.90" cy="243.79" r="1.25"/><circle cx="332.10" cy="245.60" r="1.25"/><circle cx="336.13" cy="245.60" r="1.25"/><circle cx="340.16" cy="245.60" r="1.25"/><circle cx="325.39" cy="247.40" r="1.25"/><circle cx="329.41" cy="247.40" r="1.25"/><circle cx="334.79" cy="247.40" r="1.25"/><circle cx="338.82" cy="247.40" r="1.25"/><circle cx="325.39" cy="249.21" r="1.25"/><circle cx="332.10" cy="249.21" r="1.25"/><circle cx="336.13" cy="249.21" r="1.25"/><circle cx="328.07" cy="251.02" r="1.25"/><circle cx="332.10" cy="251.02" r="1.25"/><circle cx="332.10" cy="251.02" r="1.25"/><circle cx="338.82" cy="251.02" r="1.25"/><circle cx="342.84" cy="251.02" r="1.25"/><circle cx="354.93" cy="251.02" r="1.25"/><circle cx="324.04" cy="252.82" r="1.25"/><circle cx="329.41" cy="252.82" r="1.25"/><circle cx="337.47" cy="252.82" r="1.25"/><circle cx="358.96" cy="252.82" r="1.25"/><circle cx="328.07" cy="254.63" r="1.25"/><circle cx="328.07" cy="254.63" r="1.25"/><circle cx="341.50" cy="254.63" r="1.25"/><circle cx="324.04" cy="256.43" r="1.25"/><circle cx="332.10" cy="256.43" r="1.25"/><circle cx="337.47" cy="256.43" r="1.25"/><circle cx="326.73" cy="258.24" r="1.25"/><circle cx="332.10" cy="258.24" r="1.25"/><circle cx="332.10" cy="258.24" r="1.25"/><circle cx="340.16" cy="258.24" r="1.25"/><circle cx="322.70" cy="260.05" r="1.25"/><circle cx="328.07" cy="260.05" r="1.25"/><circle cx="328.07" cy="260.05" r="1.25"/><circle cx="330.76" cy="260.05" r="1.25"/><circle cx="333.44" cy="260.05" r="1.25"/><circle cx="333.44" cy="260.05" r="1.25"/><circle cx="336.13" cy="261.85" r="1.25"/><circle cx="324.04" cy="263.66" r="1.25"/><circle cx="328.07" cy="263.66" r="1.25"/><circle cx="342.84" cy="263.66" r="1.25"/><circle cx="322.70" cy="265.46" r="1.25"/><circle cx="329.41" cy="265.46" r="1.25"/><circle cx="333.44" cy="267.27" r="1.25"/><circle cx="333.44" cy="267.27" r="1.25"/><circle cx="337.47" cy="267.27" r="1.25"/><circle cx="328.07" cy="269.08" r="1.25"/><circle cx="328.07" cy="269.08" r="1.25"/><circle cx="348.22" cy="269.08" r="1.25"/><circle cx="324.04" cy="270.88" r="1.25"/><circle cx="324.04" cy="272.69" r="1.25"/><circle cx="333.44" cy="272.69" r="1.25"/><circle cx="336.13" cy="272.69" r="1.25"/><circle cx="346.87" cy="272.69" r="1.25"/><circle cx="349.56" cy="272.69" r="1.25"/><circle cx="360.30" cy="272.69" r="1.25"/><circle cx="324.04" cy="274.49" r="1.25"/><circle cx="328.07" cy="274.49" r="1.25"/><circle cx="322.70" cy="276.30" r="1.25"/><circle cx="322.70" cy="276.30" r="1.25"/><circle cx="322.70" cy="276.30" r="1.25"/><circle cx="328.07" cy="276.30" r="1.25"/></g><path d="M303.50,168.00 V281.50 H416.80" fill="none" stroke="#000" stroke-width="1.1"/><path d="M300.50,276.50H303.50M300.50,258.50H303.50M300.50,240.50H303.50M300.50,222.50H303.50M300.50,204.50H303.50M300.50,186.50H303.50M322.50,281.50V284.50M349.50,281.50V284.50M376.50,281.50V284.50M403.50,281.50V284.50" stroke="#000" stroke-width="1"/><g fill="rgba(0,0,0,0.27)" stroke="rgba(0,0,0,0.2)" stroke-width="0.5"><circle cx="155.50" cy="372.06" r="1.25"/><circle cx="155.50" cy="321.78" r="1.25"/><circle cx="153.89" cy="379.50" r="1.25"/><circle cx="152.28" cy="370.19" r="1.25"/><circle cx="152.28" cy="344.13" r="1.25"/><circle cx="152.28" cy="340.40" r="1.25"/><circle cx="152.28" cy="291.99" r="1.25"/><circle cx="150.68" cy="362.75" r="1.25"/><circle cx="150.68" cy="344.13" r="1.25"/><circle cx="150.68" cy="323.64" r="1.25"/><circle cx="149.07" cy="331.09" r="1.25"/><circle cx="149.07" cy="327.37" r="1.25"/><circle cx="147.46" cy="336.68" r="1.25"/><circle cx="147.46" cy="331.09" r="1.25"/><circle cx="145.86" cy="375.78" r="1.25"/><circle cx="145.86" cy="318.06" r="1.25"/><circle cx="144.25" cy="375.78" r="1.25"/><circle cx="144.25" cy="345.99" r="1.25"/><circle cx="142.64" cy="370.19" r="1.25"/><circle cx="141.03" cy="375.78" r="1.25"/><circle cx="141.03" cy="375.78" r="1.25"/><circle cx="141.03" cy="370.19" r="1.25"/><circle cx="141.03" cy="355.30" r="1.25"/><circle cx="141.03" cy="355.30" r="1.25"/><circle cx="141.03" cy="344.13" r="1.25"/><circle cx="141.03" cy="336.68" r="1.25"/><circle cx="139.43" cy="381.37" r="1.25"/><circle cx="139.43" cy="353.44" r="1.25"/><circle cx="137.82" cy="385.09" r="1.25"/><circle cx="137.82" cy="379.50" r="1.25"/><circle cx="137.82" cy="362.75" r="1.25"/><circle cx="137.82" cy="362.75" r="1.25"/><circle cx="137.82" cy="357.16" r="1.25"/><circle cx="136.21" cy="370.19" r="1.25"/><circle cx="136.21" cy="368.33" r="1.25"/><circle cx="134.60" cy="379.50" r="1.25"/><circle cx="134.60" cy="379.50" r="1.25"/><circle cx="134.60" cy="355.30" r="1.25"/><circle cx="134.60" cy="340.40" r="1.25"/><circle cx="133.00" cy="383.23" r="1.25"/><circle cx="133.00" cy="379.50" r="1.25"/><circle cx="133.00" cy="362.75" r="1.25"/><circle cx="131.39" cy="381.37" r="1.25"/><circle cx="131.39" cy="377.64" r="1.25"/><circle cx="131.39" cy="372.06" r="1.25"/><circle cx="129.78" cy="392.54" r="1.25"/><circle cx="129.78" cy="375.78" r="1.25"/><circle cx="129.78" cy="375.78" r="1.25"/><circle cx="129.78" cy="372.06" r="1.25"/><circle cx="129.78" cy="366.47" r="1.25"/><circle cx="129.78" cy="340.40" r="1.25"/><circle cx="128.17" cy="383.23" r="1.25"/><circle cx="128.17" cy="377.64" r="1.25"/><circle cx="128.17" cy="377.64" r="1.25"/><circle cx="128.17" cy="368.33" r="1.25"/><circle cx="126.56" cy="379.50" r="1.25"/><circle cx="126.56" cy="360.88" r="1.25"/><circle cx="126.56" cy="344.13" r="1.25"/><circle cx="126.56" cy="334.82" r="1.25"/><circle cx="124.96" cy="379.50" r="1.25"/><circle cx="124.96" cy="373.92" r="1.25"/><circle cx="123.35" cy="379.50" r="1.25"/><circle cx="123.35" cy="368.33" r="1.25"/><circle cx="123.35" cy="368.33" r="1.25"/><circle cx="123.35" cy="349.71" r="1.25"/><circle cx="123.35" cy="338.54" r="1.25"/><circle cx="121.74" cy="388.81" r="1.25"/><circle cx="121.74" cy="385.09" r="1.25"/><circle cx="121.74" cy="385.09" r="1.25"/><circle cx="121.74" cy="377.64" r="1.25"/><circle cx="121.74" cy="366.47" r="1.25"/><circle cx="121.74" cy="359.02" r="1.25"/><circle cx="121.74" cy="331.09" r="1.25"/><circle cx="120.14" cy="377.64" r="1.25"/><circle cx="120.14" cy="373.92" r="1.25"/><circle cx="118.53" cy="383.23" r="1.25"/><circle cx="118.53" cy="377.64" r="1.25"/><circle cx="118.53" cy="372.06" r="1.25"/><circle cx="118.53" cy="349.71" r="1.25"/><circle cx="116.92" cy="386.95" r="1.25"/><circle cx="116.92" cy="386.95" r="1.25"/><circle cx="116.92" cy="383.23" r="1.25"/><circle cx="116.92" cy="351.57" r="1.25"/><circle cx="115.31" cy="385.09" r="1.25"/><circle cx="115.31" cy="385.09" r="1.25"/><circle cx="115.31" cy="366.47" r="1.25"/><circle cx="115.31" cy="366.47" r="1.25"/><circle cx="113.70" cy="390.68" r="1.25"/><circle cx="113.70" cy="375.78" r="1.25"/><circle cx="113.70" cy="375.78" r="1.25"/><circle cx="113.70" cy="357.16" r="1.25"/><circle cx="113.70" cy="357.16" r="1.25"/><circle cx="112.10" cy="385.09" r="1.25"/><circle cx="112.10" cy="377.64" r="1.25"/><circle cx="112.10" cy="372.06" r="1.25"/><circle cx="112.10" cy="342.26" r="1.25"/><circle cx="110.49" cy="392.54" r="1.25"/><circle cx="110.49" cy="392.54" r="1.25"/><circle cx="110.49" cy="385.09" r="1.25"/><circle cx="110.49" cy="379.50" r="1.25"/><circle cx="110.49" cy="375.78" r="1.25"/><circle cx="110.49" cy="375.78" r="1.25"/><circle cx="110.49" cy="355.30" r="1.25"/><circle cx="108.88" cy="388.81" r="1.25"/><circle cx="108.88" cy="383.23" r="1.25"/><circle cx="108.88" cy="372.06" r="1.25"/><circle cx="108.88" cy="372.06" r="1.25"/><circle cx="107.28" cy="388.81" r="1.25"/><circle cx="107.28" cy="379.50" r="1.25"/><circle cx="107.28" cy="379.50" r="1.25"/><circle cx="107.28" cy="373.92" r="1.25"/><circle cx="107.28" cy="368.33" r="1.25"/><circle cx="105.67" cy="388.81" r="1.25"/><circle cx="105.67" cy="381.37" r="1.25"/><circle cx="105.67" cy="381.37" r="1.25"/><circle cx="104.06" cy="379.50" r="1.25"/><circle cx="104.06" cy="379.50" r="1.25"/><circle cx="102.45" cy="390.68" r="1.25"/><circle cx="102.45" cy="386.95" r="1.25"/><circle cx="102.45" cy="381.37" r="1.25"/><circle cx="102.45" cy="373.92" r="1.25"/><circle cx="102.45" cy="370.19" r="1.25"/><circle cx="102.45" cy="360.88" r="1.25"/><circle cx="100.84" cy="386.95" r="1.25"/><circle cx="100.84" cy="383.23" r="1.25"/><circle cx="100.84" cy="383.23" r="1.25"/><circle cx="100.84" cy="366.47" r="1.25"/><circle cx="99.24" cy="394.40" r="1.25"/><circle cx="99.24" cy="390.68" r="1.25"/><circle cx="99.24" cy="390.68" r="1.25"/><circle cx="99.24" cy="386.95" r="1.25"/><circle cx="99.24" cy="373.92" r="1.25"/><circle cx="97.63" cy="392.54" r="1.25"/><circle cx="97.63" cy="392.54" r="1.25"/><circle cx="97.63" cy="383.23" r="1.25"/><circle cx="96.02" cy="386.95" r="1.25"/><circle cx="96.02" cy="386.95" r="1.25"/><circle cx="96.02" cy="379.50" r="1.25"/><circle cx="96.02" cy="359.02" r="1.25"/><circle cx="94.42" cy="394.40" r="1.25"/><circle cx="94.42" cy="390.68" r="1.25"/><circle cx="94.42" cy="390.68" r="1.25"/><circle cx="94.42" cy="386.95" r="1.25"/><circle cx="94.42" cy="375.78" r="1.25"/><circle cx="92.81" cy="394.40" r="1.25"/><circle cx="92.81" cy="394.40" r="1.25"/><circle cx="92.81" cy="394.40" r="1.25"/><circle cx="92.81" cy="388.81" r="1.25"/><circle cx="92.81" cy="379.50" r="1.25"/><circle cx="91.20" cy="386.95" r="1.25"/></g><path d="M67.00,286.50 V399.50 H180.00" fill="none" stroke="#000" stroke-width="1.1"/><path d="M64.00,394.50H67.00M64.00,375.50H67.00M64.00,357.50H67.00M64.00,338.50H67.00M64.00,319.50H67.00M64.00,301.50H67.00M91.50,399.50V402.50M123.50,399.50V402.50M155.50,399.50V402.50" stroke="#000" stroke-width="1"/><g fill="rgba(0,0,0,0.27)" stroke="rgba(0,0,0,0.2)" stroke-width="0.5"><circle cx="276.06" cy="340.40" r="1.25"/><circle cx="271.20" cy="323.64" r="1.25"/><circle cx="265.12" cy="353.44" r="1.25"/><circle cx="260.26" cy="331.09" r="1.25"/><circle cx="257.83" cy="370.19" r="1.25"/><circle cx="256.62" cy="366.47" r="1.25"/><circle cx="256.62" cy="344.13" r="1.25"/><circle cx="256.62" cy="291.99" r="1.25"/><circle cx="255.40" cy="336.68" r="1.25"/><circle cx="254.19" cy="379.50" r="1.25"/><circle cx="254.19" cy="377.64" r="1.25"/><circle cx="254.19" cy="377.64" r="1.25"/><circle cx="254.19" cy="355.30" r="1.25"/><circle cx="252.97" cy="379.50" r="1.25"/><circle cx="252.97" cy="375.78" r="1.25"/><circle cx="252.97" cy="370.19" r="1.25"/><circle cx="252.97" cy="362.75" r="1.25"/><circle cx="252.97" cy="318.06" r="1.25"/><circle cx="251.76" cy="344.13" r="1.25"/><circle cx="251.76" cy="340.40" r="1.25"/><circle cx="250.54" cy="381.37" r="1.25"/><circle cx="250.54" cy="372.06" r="1.25"/><circle cx="250.54" cy="362.75" r="1.25"/><circle cx="250.54" cy="331.09" r="1.25"/><circle cx="250.54" cy="327.37" r="1.25"/><circle cx="249.33" cy="385.09" r="1.25"/><circle cx="249.33" cy="377.64" r="1.25"/><circle cx="249.33" cy="345.99" r="1.25"/><circle cx="248.11" cy="383.23" r="1.25"/><circle cx="248.11" cy="383.23" r="1.25"/><circle cx="248.11" cy="370.19" r="1.25"/><circle cx="248.11" cy="362.75" r="1.25"/><circle cx="246.90" cy="381.37" r="1.25"/><circle cx="246.90" cy="336.68" r="1.25"/><circle cx="246.90" cy="321.78" r="1.25"/><circle cx="245.68" cy="379.50" r="1.25"/><circle cx="245.68" cy="375.78" r="1.25"/><circle cx="245.68" cy="370.19" r="1.25"/><circle cx="245.68" cy="353.44" r="1.25"/><circle cx="244.47" cy="368.33" r="1.25"/><circle cx="244.47" cy="357.16" r="1.25"/><circle cx="243.25" cy="379.50" r="1.25"/><circle cx="242.04" cy="375.78" r="1.25"/><circle cx="242.04" cy="375.78" r="1.25"/><circle cx="242.04" cy="349.71" r="1.25"/><circle cx="242.04" cy="334.82" r="1.25"/><circle cx="240.82" cy="383.23" r="1.25"/><circle cx="240.82" cy="359.02" r="1.25"/><circle cx="240.82" cy="344.13" r="1.25"/><circle cx="239.61" cy="379.50" r="1.25"/><circle cx="239.61" cy="379.50" r="1.25"/><circle cx="239.61" cy="375.78" r="1.25"/><circle cx="238.39" cy="388.81" r="1.25"/><circle cx="237.18" cy="392.54" r="1.25"/><circle cx="237.18" cy="385.09" r="1.25"/><circle cx="237.18" cy="372.06" r="1.25"/><circle cx="237.18" cy="372.06" r="1.25"/><circle cx="237.18" cy="362.75" r="1.25"/><circle cx="235.96" cy="377.64" r="1.25"/><circle cx="235.96" cy="377.64" r="1.25"/><circle cx="235.96" cy="355.30" r="1.25"/><circle cx="235.96" cy="338.54" r="1.25"/><circle cx="234.75" cy="379.50" r="1.25"/><circle cx="234.75" cy="360.88" r="1.25"/><circle cx="234.75" cy="351.57" r="1.25"/><circle cx="233.53" cy="386.95" r="1.25"/><circle cx="233.53" cy="381.37" r="1.25"/><circle cx="233.53" cy="368.33" r="1.25"/><circle cx="233.53" cy="360.88" r="1.25"/><circle cx="233.53" cy="340.40" r="1.25"/><circle cx="233.53" cy="331.09" r="1.25"/><circle cx="232.31" cy="381.37" r="1.25"/><circle cx="232.31" cy="377.64" r="1.25"/><circle cx="231.10" cy="379.50" r="1.25"/><circle cx="231.10" cy="368.33" r="1.25"/><circle cx="231.10" cy="368.33" r="1.25"/><circle cx="229.89" cy="385.09" r="1.25"/><circle cx="229.89" cy="385.09" r="1.25"/><circle cx="229.89" cy="377.64" r="1.25"/><circle cx="229.89" cy="372.06" r="1.25"/><circle cx="228.67" cy="385.09" r="1.25"/><circle cx="228.67" cy="379.50" r="1.25"/><circle cx="228.67" cy="366.47" r="1.25"/><circle cx="228.67" cy="355.30" r="1.25"/><circle cx="228.67" cy="355.30" r="1.25"/><circle cx="227.46" cy="381.37" r="1.25"/><circle cx="227.46" cy="375.78" r="1.25"/><circle cx="227.46" cy="370.19" r="1.25"/><circle cx="226.24" cy="390.68" r="1.25"/><circle cx="226.24" cy="385.09" r="1.25"/><circle cx="226.24" cy="377.64" r="1.25"/><circle cx="226.24" cy="372.06" r="1.25"/><circle cx="225.03" cy="390.68" r="1.25"/><circle cx="225.03" cy="381.37" r="1.25"/><circle cx="225.03" cy="375.78" r="1.25"/><circle cx="223.81" cy="386.95" r="1.25"/><circle cx="223.81" cy="381.37" r="1.25"/><circle cx="223.81" cy="381.37" r="1.25"/><circle cx="223.81" cy="372.06" r="1.25"/><circle cx="223.81" cy="366.47" r="1.25"/><circle cx="223.81" cy="349.71" r="1.25"/><circle cx="222.60" cy="392.54" r="1.25"/><circle cx="222.60" cy="385.09" r="1.25"/><circle cx="222.60" cy="373.92" r="1.25"/><circle cx="222.60" cy="344.13" r="1.25"/><circle cx="221.38" cy="386.95" r="1.25"/><circle cx="221.38" cy="386.95" r="1.25"/><circle cx="221.38" cy="368.33" r="1.25"/><circle cx="220.17" cy="392.54" r="1.25"/><circle cx="220.17" cy="381.37" r="1.25"/><circle cx="220.17" cy="373.92" r="1.25"/><circle cx="218.95" cy="388.81" r="1.25"/><circle cx="218.95" cy="381.37" r="1.25"/><circle cx="218.95" cy="381.37" r="1.25"/><circle cx="218.95" cy="370.19" r="1.25"/><circle cx="217.74" cy="394.40" r="1.25"/><circle cx="217.74" cy="386.95" r="1.25"/><circle cx="217.74" cy="386.95" r="1.25"/><circle cx="217.74" cy="383.23" r="1.25"/><circle cx="217.74" cy="379.50" r="1.25"/><circle cx="217.74" cy="379.50" r="1.25"/><circle cx="216.52" cy="375.78" r="1.25"/><circle cx="215.31" cy="392.54" r="1.25"/><circle cx="215.31" cy="386.95" r="1.25"/><circle cx="215.31" cy="366.47" r="1.25"/><circle cx="214.09" cy="394.40" r="1.25"/><circle cx="214.09" cy="385.09" r="1.25"/><circle cx="212.88" cy="379.50" r="1.25"/><circle cx="212.88" cy="379.50" r="1.25"/><circle cx="212.88" cy="373.92" r="1.25"/><circle cx="211.66" cy="386.95" r="1.25"/><circle cx="211.66" cy="386.95" r="1.25"/><circle cx="211.66" cy="359.02" r="1.25"/><circle cx="210.45" cy="392.54" r="1.25"/><circle cx="209.23" cy="392.54" r="1.25"/><circle cx="209.23" cy="379.50" r="1.25"/><circle cx="209.23" cy="375.78" r="1.25"/><circle cx="209.23" cy="360.88" r="1.25"/><circle cx="209.23" cy="357.16" r="1.25"/><circle cx="209.23" cy="342.26" r="1.25"/><circle cx="208.02" cy="392.54" r="1.25"/><circle cx="208.02" cy="386.95" r="1.25"/><circle cx="206.80" cy="394.40" r="1.25"/><circle cx="206.80" cy="394.40" r="1.25"/><circle cx="206.80" cy="394.40" r="1.25"/><circle cx="206.80" cy="386.95" r="1.25"/></g><path d="M185.50,286.50 V399.50 H298.00" fill="none" stroke="#000" stroke-width="1.1"/><path d="M182.50,394.50H185.50M182.50,375.50H185.50M182.50,357.50H185.50M182.50,338.50H185.50M182.50,319.50H185.50M182.50,301.50H185.50M206.50,399.50V402.50M231.50,399.50V402.50M255.50,399.50V402.50M279.50,399.50V402.50" stroke="#000" stroke-width="1"/><path d="M303.50,399.38 L304.88,399.40 L306.21,399.40 L307.45,399.40 L308.63,399.11 L309.72,398.57 L310.74,397.88 L311.68,397.06 L312.55,396.14 L313.34,395.15 L314.06,394.09 L314.70,393.00 L315.27,391.87 L315.78,390.72 L316.23,389.55 L316.63,388.35 L316.98,387.14 L317.30,385.91 L317.59,384.68 L317.86,383.43 L318.10,382.18 L318.34,380.92 L318.57,379.67 L318.79,378.41 L319.01,377.16 L319.22,375.91 L319.42,374.66 L319.62,373.40 L319.81,372.15 L320.00,370.90 L320.18,369.65 L320.36,368.39 L320.54,367.14 L320.71,365.89 L320.87,364.64 L321.03,363.39 L321.19,362.14 L321.35,360.89 L321.50,359.63 L321.65,358.38 L321.79,357.13 L321.93,355.88 L322.07,354.63 L322.21,353.38 L322.35,352.12 L322.48,350.87 L322.61,349.62 L322.74,348.37 L322.87,347.11 L323.00,345.86 L323.12,344.61 L323.25,343.35 L323.37,342.10 L323.50,340.85 L323.62,339.59 L323.74,338.34 L323.87,337.08 L323.99,335.82 L324.12,334.57 L324.24,333.31 L324.37,332.05 L324.50,330.80 L324.63,329.54 L324.76,328.28 L324.89,327.02 L325.03,325.76 L325.16,324.50 L325.30,323.23 L325.44,321.97 L325.59,320.71 L325.73,319.44 L325.88,318.18 L326.04,316.91 L326.20,315.65 L326.36,314.38 L326.52,313.11 L326.70,311.85 L326.88,310.58 L327.07,309.32 L327.28,308.05 L327.49,306.79 L327.73,305.54 L327.98,304.29 L328.25,303.04 L328.54,301.80 L328.86,300.57 L329.19,299.34 L329.56,298.12 L329.95,296.91 L330.37,295.71 L330.82,294.53 L331.34,293.52 L331.96,292.88 L332.72,292.79 L333.55,293.23 L334.33,294.02 L334.96,294.99 L335.46,296.09 L335.84,297.30 L336.15,298.58 L336.41,299.90 L336.65,301.22 L336.88,302.55 L337.10,303.86 L337.31,305.17 L337.52,306.48 L337.72,307.78 L337.92,309.08 L338.11,310.37 L338.30,311.66 L338.48,312.94 L338.66,314.22 L338.83,315.49 L339.00,316.76 L339.17,318.03 L339.34,319.29 L339.50,320.55 L339.66,321.81 L339.82,323.06 L339.98,324.32 L340.14,325.56 L340.30,326.81 L340.46,328.05 L340.62,329.30 L340.78,330.54 L340.94,331.77 L341.10,333.01 L341.27,334.25 L341.44,335.48 L341.61,336.71 L341.79,337.95 L341.97,339.18 L342.15,340.41 L342.34,341.64 L342.53,342.87 L342.73,344.10 L342.94,345.33 L343.15,346.56 L343.36,347.80 L343.59,349.03 L343.82,350.26 L344.06,351.50 L344.31,352.73 L344.57,353.97 L344.83,355.21 L345.11,356.45 L345.40,357.69 L345.69,358.94 L346.00,360.19 L346.32,361.43 L346.65,362.68 L347.01,363.92 L347.38,365.16 L347.78,366.38 L348.20,367.59 L348.66,368.79 L349.15,369.97 L349.67,371.12 L350.24,372.26 L350.85,373.36 L351.50,374.44 L352.20,375.47 L352.98,376.43 L353.87,377.25 L354.88,377.89 L356.04,378.34 L357.28,378.67 L358.54,378.98 L359.76,379.37 L360.88,379.90 L361.91,380.59 L362.87,381.38 L363.78,382.26 L364.67,383.17 L365.55,384.08 L366.47,384.96 L367.41,385.80 L368.37,386.61 L369.33,387.42 L370.29,388.24 L371.22,389.10 L372.13,389.98 L373.04,390.89 L373.93,391.80 L374.83,392.71 L375.74,393.61 L376.67,394.47 L377.63,395.30 L378.62,396.08 L379.65,396.80 L380.73,397.45 L381.85,398.03 L383.00,398.51 L384.18,398.91 L385.39,399.20 L386.61,399.39 L387.86,399.40 L389.11,399.40 L390.38,399.23 L391.64,398.98 L392.91,398.70 L394.18,398.45 L395.44,398.25 L396.70,398.17 L397.94,398.23 L399.18,398.40 L400.42,398.65 L401.65,398.92 L402.89,399.17 L404.14,399.37 L405.40,399.40 L406.66,399.40 L407.93,399.40 L409.21,399.40 L410.49,399.37 L411.76,399.30 L413.03,399.25 L414.30,399.24 L415.55,399.28 L416.80,399.40" fill="none" stroke="#000" stroke-width="1.25"/><path d="M303.50,286.50 V399.50 H416.80" fill="none" stroke="#000" stroke-width="1.1"/><path d="M300.50,394.50H303.50M300.50,375.50H303.50M300.50,357.50H303.50M300.50,338.50H303.50M300.50,319.50H303.50M300.50,301.50H303.50M322.50,399.50V402.50M349.50,399.50V402.50M376.50,399.50V402.50M403.50,399.50V402.50" stroke="#000" stroke-width="1"/><text x="61.8" y="161.70" font-size="11.9" text-anchor="end" fill="#1b2220">20</text><text x="61.8" y="110.25" font-size="11.9" text-anchor="end" fill="#1b2220">40</text><text x="61.8" y="58.80" font-size="11.9" text-anchor="end" fill="#1b2220">60</text><text x="61.8" y="280.60" font-size="11.9" text-anchor="end" fill="#1b2220">20</text><text x="61.8" y="244.48" font-size="11.9" text-anchor="end" fill="#1b2220">40</text><text x="61.8" y="208.36" font-size="11.9" text-anchor="end" fill="#1b2220">60</text><text x="61.8" y="398.70" font-size="11.9" text-anchor="end" fill="#1b2220">0</text><text x="61.8" y="361.46" font-size="11.9" text-anchor="end" fill="#1b2220">20</text><text x="61.8" y="324.22" font-size="11.9" text-anchor="end" fill="#1b2220">40</text><text x="91.20" y="416" font-size="11.9" text-anchor="middle" fill="#1b2220">20</text><text x="123.35" y="416" font-size="11.9" text-anchor="middle" fill="#1b2220">40</text><text x="155.50" y="416" font-size="11.9" text-anchor="middle" fill="#1b2220">60</text><text x="206.80" y="416" font-size="11.9" text-anchor="middle" fill="#1b2220">20</text><text x="231.10" y="416" font-size="11.9" text-anchor="middle" fill="#1b2220">40</text><text x="255.40" y="416" font-size="11.9" text-anchor="middle" fill="#1b2220">60</text><text x="279.70" y="416" font-size="11.9" text-anchor="middle" fill="#1b2220">80</text><text x="322.70" y="416" font-size="11.9" text-anchor="middle" fill="#1b2220">0</text><text x="349.56" y="416" font-size="11.9" text-anchor="middle" fill="#1b2220">20</text><text x="376.42" y="416" font-size="11.9" text-anchor="middle" fill="#1b2220">40</text><text x="403.28" y="416" font-size="11.9" text-anchor="middle" fill="#1b2220">60</text><text x="118.70" y="437.9" font-size="14.8" text-anchor="middle" fill="#1b2220">SDS</text><text x="244.50" y="437.9" font-size="14.4" text-anchor="middle" fill="#1b2220">STAI-T</text><text x="357.80" y="437.9" font-size="14.8" text-anchor="middle" fill="#1b2220">OCI-R</text><text transform="translate(34.4,103.00) rotate(-90)" font-size="14.8" text-anchor="middle" fill="#1b2220">SDS</text><text transform="translate(34.4,227.50) rotate(-90)" font-size="14.4" text-anchor="middle" fill="#1b2220">STAI-T</text><text transform="translate(34.4,337.90) rotate(-90)" font-size="14.8" text-anchor="middle" fill="#1b2220">OCI-R</text><g fill="#6b7bb3"><rect x="497.63" y="122.80" width="2.75" height="24.60"/><rect x="500.86" y="122.80" width="2.75" height="24.00"/><rect x="504.10" y="122.80" width="2.75" height="19.30"/><rect x="507.33" y="122.80" width="2.75" height="17.20"/><rect x="510.56" y="122.80" width="2.75" height="17.20"/><rect x="513.80" y="122.80" width="2.75" height="8.60"/><rect x="517.03" y="122.80" width="2.75" height="5.70"/><rect x="520.27" y="122.80" width="2.75" height="4.70"/><rect x="523.50" y="121.90" width="2.75" height="0.90"/><rect x="526.73" y="119.90" width="2.75" height="2.90"/><rect x="529.97" y="114.90" width="2.75" height="7.90"/><rect x="533.20" y="76.10" width="2.75" height="46.70"/><rect x="536.43" y="72.10" width="2.75" height="50.70"/><rect x="539.67" y="72.10" width="2.75" height="50.70"/><rect x="542.90" y="71.20" width="2.75" height="51.60"/><rect x="546.14" y="70.00" width="2.75" height="52.80"/><rect x="549.37" y="67.80" width="2.75" height="55.00"/><rect x="552.60" y="63.50" width="2.75" height="59.30"/><rect x="555.84" y="63.10" width="2.75" height="59.70"/><rect x="559.07" y="60.10" width="2.75" height="62.70"/></g><g fill="#2a1833"><rect x="562.30" y="122.80" width="2.75" height="17.00"/><rect x="565.54" y="122.80" width="2.75" height="14.90"/><rect x="568.77" y="122.80" width="2.75" height="15.00"/><rect x="572.01" y="122.80" width="2.75" height="12.40"/><rect x="575.24" y="122.80" width="2.75" height="11.20"/><rect x="578.47" y="122.80" width="2.75" height="3.00"/><rect x="581.71" y="122.80" width="2.75" height="2.80"/><rect x="584.94" y="120.20" width="2.75" height="2.60"/><rect x="588.17" y="119.10" width="2.75" height="3.70"/><rect x="591.41" y="117.30" width="2.75" height="5.50"/><rect x="594.64" y="101.80" width="2.75" height="21.00"/><rect x="597.87" y="93.80" width="2.75" height="29.00"/><rect x="601.11" y="82.00" width="2.75" height="40.80"/><rect x="604.34" y="79.30" width="2.75" height="43.50"/><rect x="607.58" y="79.50" width="2.75" height="43.30"/><rect x="610.81" y="76.80" width="2.75" height="46.00"/><rect x="614.04" y="75.00" width="2.75" height="47.80"/><rect x="617.28" y="75.00" width="2.75" height="47.80"/><rect x="620.51" y="71.70" width="2.75" height="51.10"/><rect x="623.74" y="69.00" width="2.75" height="53.80"/></g><g fill="#a65a5a"><rect x="626.98" y="122.80" width="2.75" height="4.00"/><rect x="630.21" y="122.80" width="2.75" height="3.70"/><rect x="633.45" y="122.80" width="2.75" height="2.60"/><rect x="636.68" y="122.80" width="2.75" height="2.60"/><rect x="639.91" y="122.80" width="2.75" height="2.80"/><rect x="643.15" y="122.80" width="2.75" height="1.90"/><rect x="646.38" y="122.80" width="2.75" height="1.20"/><rect x="656.08" y="121.10" width="2.75" height="1.70"/><rect x="659.32" y="120.20" width="2.75" height="2.60"/><rect x="662.55" y="120.20" width="2.75" height="2.60"/><rect x="665.78" y="120.00" width="2.75" height="2.80"/><rect x="669.02" y="118.90" width="2.75" height="3.90"/><rect x="672.25" y="118.90" width="2.75" height="3.90"/><rect x="675.48" y="118.00" width="2.75" height="4.80"/><rect x="678.72" y="118.00" width="2.75" height="4.80"/><rect x="681.95" y="118.00" width="2.75" height="4.80"/></g><path d="M497.6,55.50V152.00M494.90,150.60H497.60M494.90,136.60H497.60M494.90,122.60H497.60M494.90,108.60H497.60M494.90,94.60H497.60M494.90,80.60H497.60M494.90,66.60H497.60" fill="none" stroke="#000" stroke-width="1.1"/><text x="498" y="43.40" font-size="11.5" fill="#1b2220">f1: positive affect</text><text transform="translate(468.6,100.10) rotate(-90)" font-size="14" text-anchor="middle" fill="#1b2220">factor loading</text><g fill="#6b7bb3"><rect x="497.63" y="212.00" width="2.75" height="37.70"/><rect x="500.86" y="211.60" width="2.75" height="38.10"/><rect x="504.10" y="208.80" width="2.75" height="40.90"/><rect x="507.33" y="212.10" width="2.75" height="37.60"/><rect x="510.56" y="212.90" width="2.75" height="36.80"/><rect x="513.80" y="199.00" width="2.75" height="50.70"/><rect x="517.03" y="205.30" width="2.75" height="44.40"/><rect x="520.27" y="197.80" width="2.75" height="51.90"/><rect x="523.50" y="191.30" width="2.75" height="58.40"/><rect x="526.73" y="204.90" width="2.75" height="44.80"/><rect x="529.97" y="193.90" width="2.75" height="55.80"/><rect x="533.20" y="249.70" width="2.75" height="0.90"/><rect x="536.43" y="249.70" width="2.75" height="12.60"/><rect x="539.67" y="249.70" width="2.75" height="7.70"/><rect x="542.90" y="249.70" width="2.75" height="11.00"/><rect x="546.14" y="249.70" width="2.75" height="0.90"/><rect x="549.37" y="249.70" width="2.75" height="3.40"/><rect x="552.60" y="249.70" width="2.75" height="1.40"/><rect x="555.84" y="248.00" width="2.75" height="1.70"/><rect x="559.07" y="248.00" width="2.75" height="1.70"/></g><g fill="#2a1833"><rect x="562.30" y="207.90" width="2.75" height="41.80"/><rect x="565.54" y="235.20" width="2.75" height="14.50"/><rect x="568.77" y="218.50" width="2.75" height="31.20"/><rect x="572.01" y="222.10" width="2.75" height="27.60"/><rect x="575.24" y="232.40" width="2.75" height="17.30"/><rect x="578.47" y="212.20" width="2.75" height="37.50"/><rect x="581.71" y="220.10" width="2.75" height="29.60"/><rect x="584.94" y="231.00" width="2.75" height="18.70"/><rect x="588.17" y="216.50" width="2.75" height="33.20"/><rect x="591.41" y="216.10" width="2.75" height="33.60"/><rect x="594.64" y="249.70" width="2.75" height="7.00"/><rect x="597.87" y="240.00" width="2.75" height="9.70"/><rect x="601.11" y="249.70" width="2.75" height="0.90"/><rect x="604.34" y="233.10" width="2.75" height="16.60"/><rect x="607.58" y="245.90" width="2.75" height="3.80"/><rect x="610.81" y="249.70" width="2.75" height="3.40"/><rect x="614.04" y="249.70" width="2.75" height="3.40"/><rect x="617.28" y="249.70" width="2.75" height="9.00"/><rect x="620.51" y="249.70" width="2.75" height="1.40"/><rect x="623.74" y="249.70" width="2.75" height="6.80"/></g><g fill="#a65a5a"><rect x="626.98" y="249.70" width="2.75" height="0.90"/><rect x="630.21" y="237.10" width="2.75" height="12.60"/><rect x="633.45" y="247.80" width="2.75" height="1.90"/><rect x="636.68" y="249.70" width="2.75" height="9.60"/><rect x="639.91" y="230.80" width="2.75" height="18.90"/><rect x="643.15" y="246.10" width="2.75" height="3.60"/><rect x="646.38" y="249.70" width="2.75" height="2.70"/><rect x="649.61" y="247.70" width="2.75" height="2.00"/><rect x="652.85" y="249.70" width="2.75" height="3.00"/><rect x="656.08" y="205.10" width="2.75" height="44.60"/><rect x="659.32" y="249.70" width="2.75" height="7.80"/><rect x="662.55" y="247.00" width="2.75" height="2.70"/><rect x="665.78" y="243.60" width="2.75" height="6.10"/><rect x="669.02" y="211.60" width="2.75" height="38.10"/><rect x="672.25" y="229.90" width="2.75" height="19.80"/><rect x="675.48" y="249.70" width="2.75" height="0.90"/><rect x="678.72" y="204.70" width="2.75" height="45.00"/><rect x="681.95" y="207.00" width="2.75" height="42.70"/></g><path d="M497.6,182.70V279.20M494.90,277.50H497.60M494.90,263.50H497.60M494.90,249.50H497.60M494.90,235.50H497.60M494.90,221.50H497.60M494.90,207.50H497.60M494.90,193.50H497.60" fill="none" stroke="#000" stroke-width="1.1"/><text x="498" y="179.00" font-size="11.5" fill="#1b2220">f2: intrusive thoughts and rumination</text><text transform="translate(468.6,231.90) rotate(-90)" font-size="14" text-anchor="middle" fill="#1b2220">factor loading</text><g fill="#6b7bb3"><rect x="497.63" y="377.30" width="2.75" height="13.40"/><rect x="500.86" y="377.30" width="2.75" height="9.30"/><rect x="504.10" y="377.30" width="2.75" height="5.20"/><rect x="507.33" y="377.30" width="2.75" height="6.70"/><rect x="510.56" y="377.30" width="2.75" height="7.10"/><rect x="513.80" y="377.30" width="2.75" height="6.70"/><rect x="517.03" y="377.30" width="2.75" height="2.20"/><rect x="520.27" y="377.30" width="2.75" height="4.00"/><rect x="523.50" y="377.30" width="2.75" height="2.40"/><rect x="526.73" y="377.30" width="2.75" height="1.20"/><rect x="529.97" y="376.40" width="2.75" height="0.90"/><rect x="533.20" y="377.30" width="2.75" height="1.60"/><rect x="536.43" y="365.40" width="2.75" height="11.90"/><rect x="539.67" y="376.40" width="2.75" height="0.90"/><rect x="542.90" y="372.80" width="2.75" height="4.50"/><rect x="546.14" y="376.40" width="2.75" height="0.90"/><rect x="549.37" y="373.30" width="2.75" height="4.00"/><rect x="552.60" y="373.30" width="2.75" height="4.00"/><rect x="555.84" y="373.30" width="2.75" height="4.00"/><rect x="559.07" y="369.40" width="2.75" height="7.90"/></g><g fill="#2a1833"><rect x="562.30" y="377.30" width="2.75" height="5.70"/><rect x="565.54" y="368.40" width="2.75" height="8.90"/><rect x="568.77" y="376.40" width="2.75" height="0.90"/><rect x="572.01" y="369.40" width="2.75" height="7.90"/><rect x="581.71" y="373.30" width="2.75" height="4.00"/><rect x="584.94" y="372.30" width="2.75" height="5.00"/><rect x="588.17" y="377.30" width="2.75" height="0.90"/><rect x="591.41" y="371.50" width="2.75" height="5.80"/><rect x="594.64" y="369.40" width="2.75" height="7.90"/><rect x="597.87" y="377.30" width="2.75" height="14.50"/><rect x="601.11" y="377.30" width="2.75" height="13.30"/><rect x="604.34" y="377.30" width="2.75" height="9.60"/><rect x="607.58" y="377.30" width="2.75" height="16.50"/><rect x="610.81" y="377.30" width="2.75" height="5.50"/><rect x="614.04" y="376.40" width="2.75" height="0.90"/><rect x="617.28" y="373.50" width="2.75" height="3.80"/><rect x="620.51" y="377.30" width="2.75" height="6.30"/><rect x="623.74" y="376.40" width="2.75" height="0.90"/></g><g fill="#a65a5a"><rect x="626.98" y="333.10" width="2.75" height="44.20"/><rect x="630.21" y="343.30" width="2.75" height="34.00"/><rect x="633.45" y="335.50" width="2.75" height="41.80"/><rect x="636.68" y="328.10" width="2.75" height="49.20"/><rect x="639.91" y="352.00" width="2.75" height="25.30"/><rect x="643.15" y="337.00" width="2.75" height="40.30"/><rect x="646.38" y="329.40" width="2.75" height="47.90"/><rect x="649.61" y="336.30" width="2.75" height="41.00"/><rect x="652.85" y="333.10" width="2.75" height="44.20"/><rect x="656.08" y="361.10" width="2.75" height="16.20"/><rect x="659.32" y="327.20" width="2.75" height="50.10"/><rect x="662.55" y="335.60" width="2.75" height="41.70"/><rect x="665.78" y="347.50" width="2.75" height="29.80"/><rect x="669.02" y="364.30" width="2.75" height="13.00"/><rect x="672.25" y="347.10" width="2.75" height="30.20"/><rect x="675.48" y="331.30" width="2.75" height="46.00"/><rect x="678.72" y="359.30" width="2.75" height="18.00"/><rect x="681.95" y="360.80" width="2.75" height="16.50"/></g><path d="M497.6,310.10V406.20M494.90,405.50H497.60M494.90,391.50H497.60M494.90,377.50H497.60M494.90,363.50H497.60M494.90,349.50H497.60M494.90,335.50H497.60M494.90,321.50H497.60" fill="none" stroke="#000" stroke-width="1.1"/><text x="498" y="305.90" font-size="11.5" fill="#1b2220">f3: obsessive-compulsive behaviors</text><text transform="translate(468.6,354.90) rotate(-90)" font-size="14" text-anchor="middle" fill="#1b2220">factor loading</text><text x="486.2" y="57.6" font-size="10" fill="#1b2220">1</text><text x="486" y="126.6" font-size="10" fill="#1b2220">0</text><text x="529.8" y="58.6" font-size="10.3" text-anchor="middle" fill="#1b2220">STAI-T</text><text x="595" y="58.6" font-size="10.3" text-anchor="middle" fill="#1b2220">SDS</text><text x="657.3" y="59.8" font-size="10.5" text-anchor="middle" fill="#1b2220">OCI-R</text><text x="592.5" y="430.8" font-size="14.3" text-anchor="middle" fill="#1b2220">survey item</text></svg></body></html>
